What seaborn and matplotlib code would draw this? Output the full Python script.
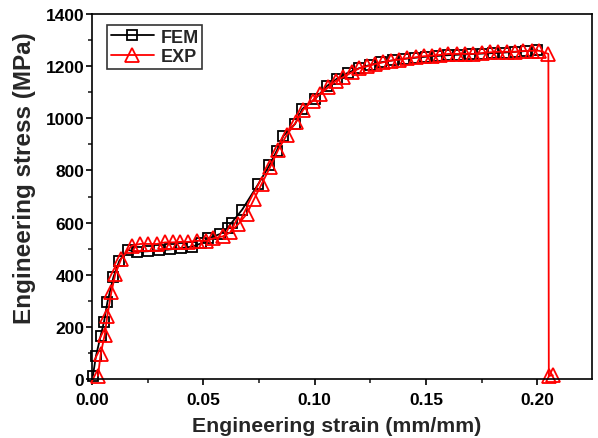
import matplotlib
matplotlib.use("Agg")
import matplotlib.pyplot as plt
import seaborn as sns
import numpy as np
from matplotlib.ticker import MultipleLocator, FormatStrFormatter

fem_strain = [0.0004, 0.0018, 0.0039, 0.0054, 0.0069, 0.0096, 0.0123, 0.0162,
              0.020, 0.025, 0.030, 0.035, 0.040, 0.045, 0.049, 0.0523, 0.0575,
              0.0610, 0.0628, 0.0675, 0.0747, 0.0797, 0.0830, 0.0860, 0.0912,
              0.0945, 0.1002, 0.1054, 0.1099, 0.115, 0.120, 0.125, 0.130, 0.135,
              0.140, 0.145, 0.150, 0.155, 0.160, 0.165, 0.170, 0.175, 0.180,
              0.185, 0.190, 0.195, 0.200]
fem_stress = [12, 89, 166, 220, 294, 390, 454, 495,
              488, 490, 493, 497, 502, 508, 520, 540, 556,
              580, 600, 650, 748, 820, 876, 933, 978,
              1036, 1074, 1123, 1151, 1175, 1192, 1205, 1215, 1222,
              1228, 1232, 1236, 1239, 1242, 1244, 1246, 1248, 1250,
              1252, 1255, 1258, 1262]

exp_strain = [0.0027, 0.0039, 0.0057, 0.0069, 0.0087, 0.0105, 0.0132, 0.0178,
              0.0216, 0.0253, 0.0291, 0.0328, 0.0363, 0.0395, 0.0433, 0.0470,
              0.0512, 0.0545, 0.0587, 0.0620, 0.0657, 0.0695, 0.0728, 0.0762,
              0.0800, 0.0837, 0.0875, 0.0916, 0.0949, 0.0991, 0.1024, 0.1062,
              0.1096, 0.1129, 0.1167, 0.1201, 0.1234, 0.1271, 0.1309, 0.1342,
              0.1380, 0.1416, 0.1456, 0.1491, 0.1526, 0.1563, 0.1601, 0.1641,
              0.1676, 0.1713, 0.1751, 0.1788, 0.1825, 0.1863, 0.1900, 0.1938,
              0.1975, 0.2009, 0.2050, 0.2052, 0.2070]
exp_stress = [12, 96, 169, 243, 333, 403, 462, 511,
              518, 518, 518, 524, 524, 526, 526, 530,
              530, 539, 547, 562, 594, 633, 690, 748,
              812, 880, 936, 985, 1033, 1068, 1093, 1119,
              1144, 1158, 1176, 1192, 1199, 1208, 1215, 1221,
              1225, 1230, 1234, 1238, 1240, 1243, 1247, 1247,
              1247, 1247, 1250, 1253, 1255, 1255, 1255, 1258,
              1259, 1259, 1247, 12, 14]

sns.set_style("ticks")
plt.rcParams['font.family'] = ['Liberation Sans', 'DejaVu Sans']
plt.rcParams['font.weight'] = 'bold'

fig = plt.figure(figsize=(5.98, 4.39), dpi=100)
ax = fig.add_axes([92/598, 1-380/439, 500/598, 365/439])

sns.lineplot(x=fem_strain, y=fem_stress, ax=ax, sort=False, estimator=None,
             color='black', lw=1.3, marker='s', ms=7.5, mfc='none', mec='black',
             mew=1.3, label='FEM', clip_on=False)
sns.lineplot(x=exp_strain, y=exp_stress, ax=ax, sort=False, estimator=None,
             color='red', lw=1.3, marker='^', ms=10, mfc='none', mec='red',
             mew=1.3, label='EXP', clip_on=False)

ax.set_xlim(0, 0.2246)
ax.set_ylim(0, 1400)
ax.xaxis.set_major_locator(MultipleLocator(0.05))
ax.xaxis.set_minor_locator(MultipleLocator(0.025))
ax.yaxis.set_major_locator(MultipleLocator(200))
ax.yaxis.set_minor_locator(MultipleLocator(100))
ax.xaxis.set_major_formatter(FormatStrFormatter('%.2f'))
ax.tick_params(which='major', direction='out', length=4.5, width=1.2,
               labelsize=12.5, colors='black')
ax.tick_params(axis='x', which='major', pad=5)
ax.tick_params(axis='y', which='major', pad=1)
ax.tick_params(which='minor', direction='out', length=3, width=1.2)
for lab in ax.get_xticklabels() + ax.get_yticklabels():
    lab.set_fontweight('bold')
for s in ax.spines.values():
    s.set_visible(True)
    s.set_linewidth(1.2)
    s.set_color('black')

ax.set_xlabel('Engineering strain (mm/mm)', fontsize=15.3, fontweight='bold')
ax.set_ylabel('Engineering stress (MPa)', fontsize=17.5, fontweight='bold')
ax.xaxis.set_label_coords(0.489, -0.102)
ax.yaxis.set_label_coords(-0.112, 0.553)

leg = ax.legend(loc='upper left', bbox_to_anchor=(0.03, 0.97), frameon=True,
                fancybox=False, edgecolor='black', fontsize=13,
                handlelength=2.4, handletextpad=0.35, borderpad=0.2,
                labelspacing=0.15, borderaxespad=0)
leg.get_frame().set_linewidth(1.2)
for t in leg.get_texts():
    t.set_fontweight('bold')

fig.savefig('out.png', dpi=100)
